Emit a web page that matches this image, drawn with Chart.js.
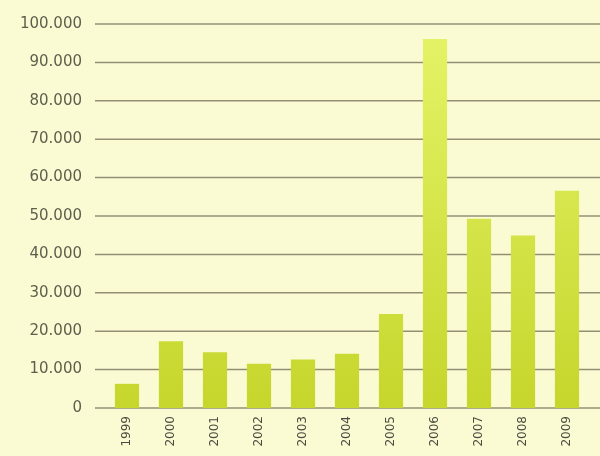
<!DOCTYPE html>
<html>
<head>
<meta charset="utf-8">
<script src="https://cdn.jsdelivr.net/npm/chart.js@4"></script>
<style>
  html, body { margin: 0; padding: 0; background: #fafbd2; }
  #wrap { width: 600px; height: 456px; }
</style>
</head>
<body>
<div id="wrap"><canvas id="graph1"></canvas></div>
<script>
// yearly totals
const years = ["1999","2000","2001","2002","2003","2004","2005","2006","2007","2008","2009"];
const totals = [6300, 17400, 14500, 11500, 12600, 14100, 24500, 96100, 49300, 44900, 56600];
const yTicks = [0, 10000, 20000, 30000, 40000, 50000, 60000, 70000, 80000, 90000, 100000];

// horizontal rules from just past the labels to the right edge of the canvas
const rules = {
  id: "rules",
  beforeDatasetsDraw(chart) {
    const ctx = chart.ctx, y = chart.scales.y, area = chart.chartArea;
    ctx.save();
    ctx.strokeStyle = "#948f74";
    ctx.lineWidth = 1.5;
    y.ticks.forEach(t => {
      const py = y.getPixelForValue(t.value);
      ctx.beginPath();
      ctx.moveTo(area.left - 10, py);
      ctx.lineTo(chart.width, py);
      ctx.stroke();
    });
    ctx.restore();
  }
};

function barFill(context) {
  const area = context.chart.chartArea;
  if (!area) return "#d4e43c";
  const g = context.chart.ctx.createLinearGradient(0, area.top, 0, area.bottom);
  g.addColorStop(0, "#e4f468");
  g.addColorStop(1, "#c6d62c");
  return g;
}

const ctx = document.getElementById("graph1");

new Chart(ctx, {
  type: "bar",
  data: {
    labels: years,
    datasets: [{
      data: totals,
      backgroundColor: barFill,
      borderWidth: 0,
      barPercentage: 0.55,
      categoryPercentage: 1
    }]
  },
  options: {
    responsive: true,
    maintainAspectRatio: false,
    animation: false,
    layout: { padding: { top: 12, right: 11, bottom: 0, left: 0 } },
    plugins: { legend: { display: false }, tooltip: { enabled: false } },
    scales: {
      x: {
        grid: { display: false },
        border: { display: false },
        ticks: {
          color: "#4a4a40",
          font: { family: "DejaVu Sans", size: 12 },
          minRotation: 90,
          maxRotation: 90,
          padding: 0
        },
        afterFit(scale) { scale.height = 48; }
      },
      y: {
        min: 0,
        max: 100000,
        afterBuildTicks(scale) { scale.ticks = yTicks.map(v => ({ value: v })); },
        afterFit(scale) { scale.width = 105; },
        border: { display: false },
        grid: { display: false },
        ticks: {
          color: "#5f5e4e",
          padding: 15,
          font: { family: "DejaVu Sans", size: 15 },
          callback: v => v.toLocaleString("de-DE")
        }
      }
    }
  },
  plugins: [rules]
});
</script>
</body>
</html>
